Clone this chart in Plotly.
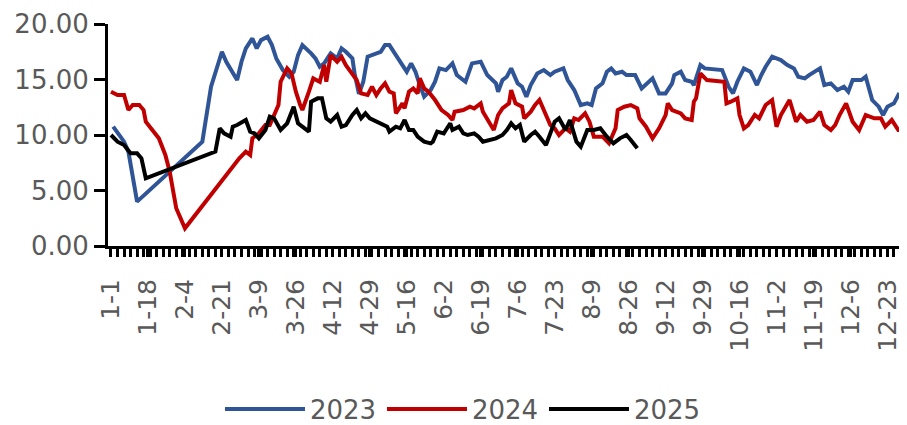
import pandas as pd
import plotly.graph_objects as go

# month-day positions (plotted on a common 2024 calendar axis) and values
dates_2023 = ["1-2", "1-7", "1-9", "1-13", "2-12", "2-14", "2-16", "2-21", "2-23", "2-28",
              "3-1", "3-3", "3-6", "3-8", "3-10", "3-13", "3-15", "3-17", "3-20", "3-23",
              "3-25", "3-27", "3-29", "4-2", "4-4", "4-6", "4-8", "4-11", "4-14", "4-16",
              "4-18", "4-21", "4-22", "4-24", "4-26", "4-28", "5-1", "5-4", "5-6", "5-8",
              "5-11", "5-14", "5-16", "5-18", "5-20", "5-22", "5-24", "5-27", "5-29", "5-31",
              "6-3", "6-6", "6-8", "6-12", "6-15", "6-19", "6-22", "6-26", "6-27", "6-29",
              "7-1", "7-3", "7-6", "7-8", "7-10", "7-12", "7-15", "7-18", "7-21", "7-23",
              "7-27", "7-29", "8-1", "8-4", "8-7", "8-9", "8-11", "8-14", "8-16", "8-18",
              "8-20", "8-23", "8-25", "8-29", "9-1", "9-6", "9-9", "9-12", "9-15", "9-16",
              "9-19", "9-21", "9-24", "9-25", "9-28", "9-30", "10-8", "10-11", "10-13", "10-15",
              "10-18", "10-21", "10-24", "10-26", "10-28", "10-31", "11-2", "11-4", "11-7", "11-10",
              "11-12", "11-15", "11-17", "11-20", "11-22", "11-24", "11-27", "11-30", "12-3", "12-5",
              "12-7", "12-11", "12-13", "12-16", "12-19", "12-21", "12-23", "12-26", "12-28", "12-30",
              "12-31"]
values_2023 = [10.75, 9.4, 8.5, 4.0, 9.4, 11.8, 14.35, 17.5, 16.6, 14.95,
               16.6, 17.8, 18.7, 17.8, 18.55, 18.85, 18.1, 16.9, 15.85, 15.25,
               15.7, 17.2, 18.1, 17.35, 16.9, 16.15, 16.45, 17.35, 16.9, 17.8,
               17.5, 16.9, 15.55, 13.7, 14.8, 17.05, 17.3, 17.5, 18.1, 18.1,
               17.2, 16.3, 15.7, 16.45, 15.7, 14.5, 13.45, 14.05, 14.8, 16.0,
               15.85, 16.45, 15.4, 14.8, 16.45, 16.6, 15.4, 14.65, 13.9, 14.95,
               15.25, 16.0, 14.65, 14.35, 13.45, 14.5, 15.55, 15.85, 15.4, 15.7,
               16.0, 14.95, 14.05, 12.7, 12.85, 12.7, 14.2, 14.65, 15.7, 16.0,
               15.55, 15.7, 15.4, 15.4, 14.2, 15.1, 13.75, 13.75, 14.65, 15.4,
               15.7, 14.95, 14.8, 14.5, 16.3, 16.0, 15.85, 14.35, 13.75, 14.8,
               16.0, 15.7, 14.5, 15.4, 16.15, 17.05, 16.9, 16.75, 16.3, 16.0,
               15.25, 15.1, 15.4, 15.7, 16.0, 14.5, 14.65, 14.05, 14.35, 13.9,
               14.95, 14.95, 15.25, 13.15, 12.55, 11.8, 12.55, 12.85, 13.6, 13.3,
               13.3]

dates_2024 = ["1-1", "1-4", "1-7", "1-9", "1-11", "1-14", "1-16", "1-17", "1-20", "1-23",
              "1-26", "1-28", "1-31", "2-4", "2-29", "3-3", "3-5", "3-6", "3-9", "3-12",
              "3-14", "3-16", "3-18", "3-19", "3-22", "3-24", "3-26", "3-28", "3-29", "4-1",
              "4-3", "4-6", "4-8", "4-9", "4-11", "4-14", "4-16", "4-18", "4-21", "4-23",
              "4-25", "4-28", "4-30", "5-2", "5-4", "5-6", "5-8", "5-10", "5-11", "5-14",
              "5-15", "5-17", "5-19", "5-21", "5-22", "5-24", "5-26", "5-29", "6-1", "6-4",
              "6-6", "6-7", "6-11", "6-14", "6-16", "6-19", "6-20", "6-23", "6-25", "6-27",
              "6-29", "7-2", "7-3", "7-5", "7-8", "7-9", "7-12", "7-14", "7-16", "7-19",
              "7-21", "7-23", "7-25", "7-28", "7-30", "8-1", "8-3", "8-6", "8-8", "8-10",
              "8-14", "8-17", "8-20", "8-21", "8-24", "8-27", "8-30", "8-31", "9-3", "9-6",
              "9-9", "9-12", "9-13", "9-15", "9-19", "9-21", "9-24", "9-25", "9-26", "9-28",
              "10-1", "10-9", "10-10", "10-12", "10-15", "10-16", "10-18", "10-20", "10-23", "10-25",
              "10-28", "10-31", "11-2", "11-4", "11-6", "11-8", "11-11", "11-13", "11-16", "11-19",
              "11-22", "11-24", "11-27", "11-29", "12-1", "12-4", "12-7", "12-10", "12-13", "12-17",
              "12-20", "12-22", "12-25", "12-28", "12-31"]
values_2024 = [13.9, 13.6, 13.6, 12.25, 12.7, 12.7, 12.25, 11.2, 10.45, 9.7,
               8.2, 6.7, 3.4, 1.6, 7.9, 8.5, 8.2, 9.7, 10.15, 10.9,
               10.9, 11.8, 12.7, 14.8, 16.0, 15.55, 13.9, 12.7, 12.25, 13.9,
               15.1, 14.8, 16.3, 14.8, 17.2, 16.6, 17.05, 16.3, 15.55, 14.95,
               13.75, 13.6, 14.35, 13.6, 14.2, 14.65, 13.9, 13.75, 11.95, 12.85,
               12.4, 13.9, 14.2, 13.75, 15.1, 14.2, 13.9, 13.15, 12.25, 11.8,
               11.35, 12.1, 12.25, 12.55, 12.4, 12.85, 12.1, 11.05, 10.45, 11.8,
               12.4, 12.85, 14.05, 12.85, 12.55, 11.5, 12.1, 12.7, 13.15, 11.8,
               10.9, 10.6, 10.0, 10.6, 10.3, 11.5, 11.35, 11.95, 11.2, 9.85,
               9.85, 9.25, 10.6, 12.25, 12.55, 12.7, 12.4, 11.5, 10.75, 9.7,
               10.6, 11.8, 12.85, 12.25, 11.95, 11.5, 11.35, 13.0, 13.3, 15.55,
               14.95, 14.8, 12.85, 13.0, 13.3, 11.8, 10.6, 10.9, 11.8, 11.5,
               12.7, 13.15, 10.75, 11.8, 12.4, 13.15, 11.2, 11.8, 11.2, 11.35,
               12.1, 10.9, 10.45, 10.9, 11.8, 12.85, 11.2, 10.45, 11.8, 11.5,
               11.5, 10.75, 11.35, 10.45, 10.45]

dates_2025 = ["1-1", "1-4", "1-7", "1-10", "1-13", "1-15", "1-17", "2-18", "2-20", "2-22",
              "2-25", "2-26", "2-28", "3-3", "3-5", "3-7", "3-9", "3-12", "3-14", "3-16",
              "3-19", "3-22", "3-25", "3-27", "3-29", "4-1", "4-2", "4-5", "4-7", "4-9",
              "4-11", "4-14", "4-16", "4-18", "4-21", "4-23", "4-25", "4-27", "4-29", "5-1",
              "5-4", "5-7", "5-8", "5-11", "5-13", "5-15", "5-17", "5-19", "5-21", "5-24",
              "5-27", "5-28", "5-30", "6-2", "6-3", "6-5", "6-6", "6-9", "6-11", "6-13",
              "6-16", "6-18", "6-20", "6-23", "6-26", "6-29", "7-1", "7-3", "7-5", "7-7",
              "7-9", "7-12", "7-14", "7-16", "7-19", "7-21", "7-23", "7-25", "7-27", "7-28",
              "7-30", "8-1", "8-2", "8-4", "8-6", "8-7", "8-10", "8-13", "8-16", "8-19",
              "8-22", "8-25", "8-27", "8-28", "8-30"]
values_2025 = [10.0, 9.4, 9.1, 8.35, 8.35, 7.9, 6.1, 8.5, 10.6, 10.15,
               9.85, 10.75, 10.9, 11.35, 10.3, 10.15, 9.7, 10.45, 11.65, 11.5,
               10.45, 11.05, 12.55, 11.05, 10.75, 10.3, 13.0, 13.3, 13.3, 11.5,
               11.2, 11.8, 10.75, 10.9, 11.8, 12.25, 11.5, 11.95, 11.5, 11.3,
               11.05, 10.75, 10.3, 10.75, 10.6, 11.35, 10.45, 10.45, 9.85, 9.4,
               9.25, 9.4, 10.3, 10.15, 10.45, 11.05, 10.45, 10.75, 10.15, 10.0,
               10.15, 9.85, 9.4, 9.55, 9.7, 10.0, 10.45, 11.05, 10.6, 10.9,
               9.4, 10.0, 10.3, 9.85, 9.1, 10.15, 11.2, 11.5, 10.9, 10.45,
               11.35, 10.15, 9.4, 8.95, 9.85, 10.45, 10.45, 10.6, 9.85, 9.25,
               9.7, 10.0, 9.55, 9.25, 8.8]

tick_labels = ["1-1", "1-18", "2-4", "2-21", "3-9", "3-26", "4-12", "4-29", "5-16", "6-2",
               "6-19", "7-6", "7-23", "8-9", "8-26", "9-12", "9-29", "10-16", "11-2", "11-19",
               "12-6", "12-23"]

series = [("2023", dates_2023, values_2023, "#2F5597"),
          ("2024", dates_2024, values_2024, "#C00000"),
          ("2025", dates_2025, values_2025, "#000000")]


def to_axis_date(md_list):
    return pd.to_datetime(["2024-" + s for s in md_list], format="%Y-%m-%d")


fig = go.Figure()
for name, dates, vals, color in series:
    fig.add_trace(go.Scatter(
        x=to_axis_date(dates), y=vals, name=name, mode="lines",
        line=dict(color=color, width=4),
    ))

grey = "#595959"
# the page body has an 8px margin, so the figure is sized 8px smaller
fig.update_layout(
    width=899, height=417,
    margin=dict(l=100, r=0, t=16, b=179),
    paper_bgcolor="white", plot_bgcolor="white",
    font=dict(family="DejaVu Sans", color=grey),
    showlegend=True,
    legend=dict(
        orientation="h", xref="container", yref="container",
        x=0.2358, xanchor="left", y=0.0384, yanchor="middle",
        font=dict(size=26, color=grey), itemwidth=80, entrywidth=67,
    ),
)
fig.update_xaxes(
    type="date", automargin=False,
    range=["2023-12-30 15:00", "2025-01-01"],
    tickvals=to_axis_date(tick_labels), ticktext=tick_labels,
    tickangle=-90, tickfont=dict(size=25, color=grey),
    showline=True, linecolor="black", linewidth=3,
    ticks="outside", ticklen=8, tickwidth=2.5, tickcolor="black",
    minor=dict(dtick=3 * 86400000, tick0="2024-01-01", ticks="outside",
               ticklen=8, tickwidth=2.5, tickcolor="black"),
    ticklabelstandoff=12,
    showgrid=False, zeroline=False,
)
fig.update_yaxes(
    automargin=False,
    range=[0, 20], dtick=5, tickformat=".2f",
    tickfont=dict(size=26, color=grey),
    showline=True, linecolor="black", linewidth=3,
    ticks="outside", ticklen=11, tickwidth=3, tickcolor="black",
    ticklabelstandoff=0,
    showgrid=False, zeroline=False,
)

fig.write_html("out.html")
